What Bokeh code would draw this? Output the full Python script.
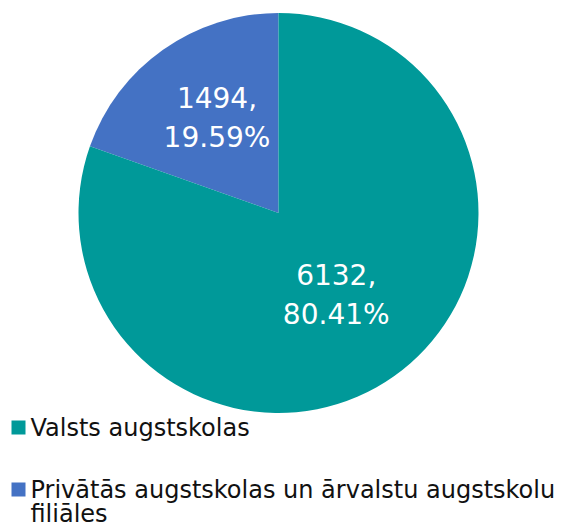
import math
import textwrap
from bokeh.plotting import figure
from bokeh.models import Range1d, ColumnDataSource
from bokeh.core.properties import value
from bokeh.embed import file_html
from bokeh.resources import INLINE

categories = ["Valsts augstskolas", "Privātās augstskolas un ārvalstu augstskolu filiāles"]
counts = [6132, 1494]
colors = ["#009999", "#4472C4"]

W, H = 561, 528
p = figure(width=W, height=H, output_backend="svg", toolbar_location=None,
           x_range=Range1d(0, W), y_range=Range1d(0, H), min_border=0)
p.axis.visible = False
p.grid.visible = False
p.outline_line_color = None
p.background_fill_color = "white"

cx, cy, R = 278, H - 212.5, 200
total = sum(counts)
# slices drawn counterclockwise from the top: second category first (as in reference)
order = [1, 0]
start = math.pi / 2
starts, ends, cols, mids = [], [], [], {}
for i in order:
    frac = counts[i] / total
    end = start + frac * 2 * math.pi
    starts.append(start); ends.append(end); cols.append(colors[i])
    mids[i] = (start + end) / 2
    start = end

src = ColumnDataSource(dict(x=[cx] * 2, y=[cy] * 2, s=starts, e=ends, c=cols))
p.wedge(x="x", y="y", radius=R, start_angle="s", end_angle="e", direction="anticlock",
        fill_color="c", line_color="white", line_width=0, source=src)

# data labels
label_r = [100, 113]
label_shift = [0, -0.04]
lx, ly, lt = [], [], []
for i in range(2):
    a = mids[i] + label_shift[i]
    lx.append(cx + label_r[i] * math.cos(a))
    ly.append(cy + label_r[i] * math.sin(a))
    pct = counts[i] / total * 100
    lt.append(f"{counts[i]},\n{pct:.2f}%")
p.text(x=lx, y=ly, text=lt, text_color="white", text_font=value("DejaVu Sans"),
       text_font_size="28px", text_align="center", text_baseline="middle",
       text_line_height=1.18)

# legend
leg_y = [H - 427, H - 489]
sq_x = 18
for i in range(2):
    p.scatter(x=[sq_x], y=[leg_y[i]], marker="square", size=14, fill_color=colors[i],
              line_color=None)
    lines = textwrap.wrap(categories[i], 43)
    for k, ln in enumerate(lines):
        p.text(x=[30], y=[leg_y[i] - k * 24.5], text=[ln], text_color="#111111",
               text_font=value("DejaVu Sans"), text_font_size="24px",
               text_align="left", text_baseline="middle")

open("out.html", "w").write(file_html(p, INLINE))
